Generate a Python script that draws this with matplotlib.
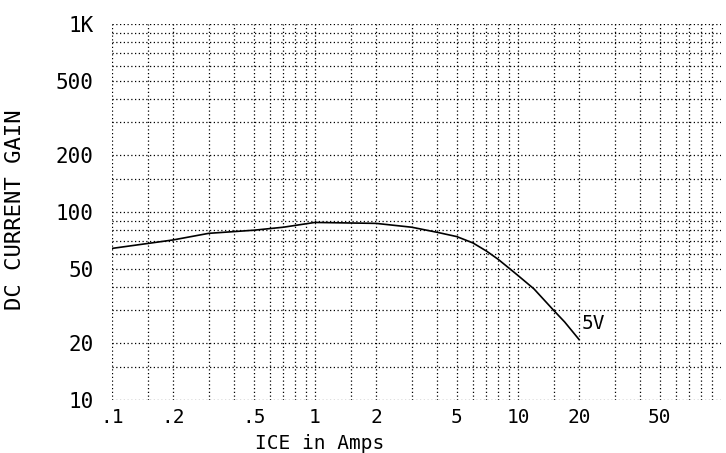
import matplotlib
matplotlib.use("Agg")
import matplotlib.pyplot as plt
from matplotlib.ticker import FixedLocator, FixedFormatter, NullFormatter

# curve (5V)
ice = [0.1, 0.15, 0.2, 0.3, 0.5, 0.7, 1, 2, 3, 4, 5, 6, 7, 8, 9, 10, 12, 15, 17, 20]
gain = [64, 68, 71, 77, 80, 83, 88, 87, 83, 78, 74, 68.5, 62, 56, 50.5, 46, 39, 30, 26, 21]

x_ticks = [0.1, 0.2, 0.5, 1, 2, 5, 10, 20, 50]
x_labels = [".1", ".2", ".5", "1", "2", "5", "10", "20", "50"]
y_ticks = [10, 20, 50, 100, 200, 500, 1000]
y_labels = ["10", "20", "50", "100", "200", "500", "1K"]

subs = [1, 1.5, 2, 3, 4, 5, 6, 7, 8, 9]
x_grid = [s * 10 ** d for d in (-1, 0, 1) for s in subs]
y_grid = [s * 10 ** d for d in (1, 2) for s in subs] + [1000]

mono = "DejaVu Sans Mono"

fig = plt.figure(figsize=(7.26, 4.53), dpi=100)
ax = fig.add_axes([0.154, 0.117, 0.839, 0.830])
ax.set_xscale("log")
ax.set_yscale("log")
ax.set_xlim(0.1, 100)
ax.set_ylim(10, 1000)

ax.xaxis.set_major_locator(FixedLocator(x_ticks))
ax.xaxis.set_major_formatter(FixedFormatter(x_labels))
ax.xaxis.set_minor_locator(FixedLocator([v for v in x_grid if v not in x_ticks]))
ax.xaxis.set_minor_formatter(NullFormatter())
ax.yaxis.set_major_locator(FixedLocator(y_ticks))
ax.yaxis.set_major_formatter(FixedFormatter(y_labels))
ax.yaxis.set_minor_locator(FixedLocator([v for v in y_grid if v not in y_ticks]))
ax.yaxis.set_minor_formatter(NullFormatter())

ax.grid(True, which="both", color="black", linestyle=(0, (1, 2)), linewidth=0.9)
ax.tick_params(which="both", length=0)
ax.tick_params(axis="y", pad=13, labelsize=15)
ax.tick_params(axis="x", pad=6, labelsize=14)
for lab in ax.get_xticklabels() + ax.get_yticklabels():
    lab.set_family(mono)
for s in ax.spines.values():
    s.set_visible(False)

ax.plot(ice, gain, color="black", linewidth=1.2)
ax.text(20.5, 25.5, "5V", fontsize=14, family=mono, ha="left", va="center")

ax.set_xlabel("ICE in Amps", fontsize=14, family=mono)
ax.xaxis.set_label_coords(0.342, -0.09)
ax.set_ylabel("DC CURRENT GAIN", fontsize=16, family=mono)
ax.yaxis.set_label_coords(-0.143, 0.505)

fig.savefig("out.png", dpi=100)
